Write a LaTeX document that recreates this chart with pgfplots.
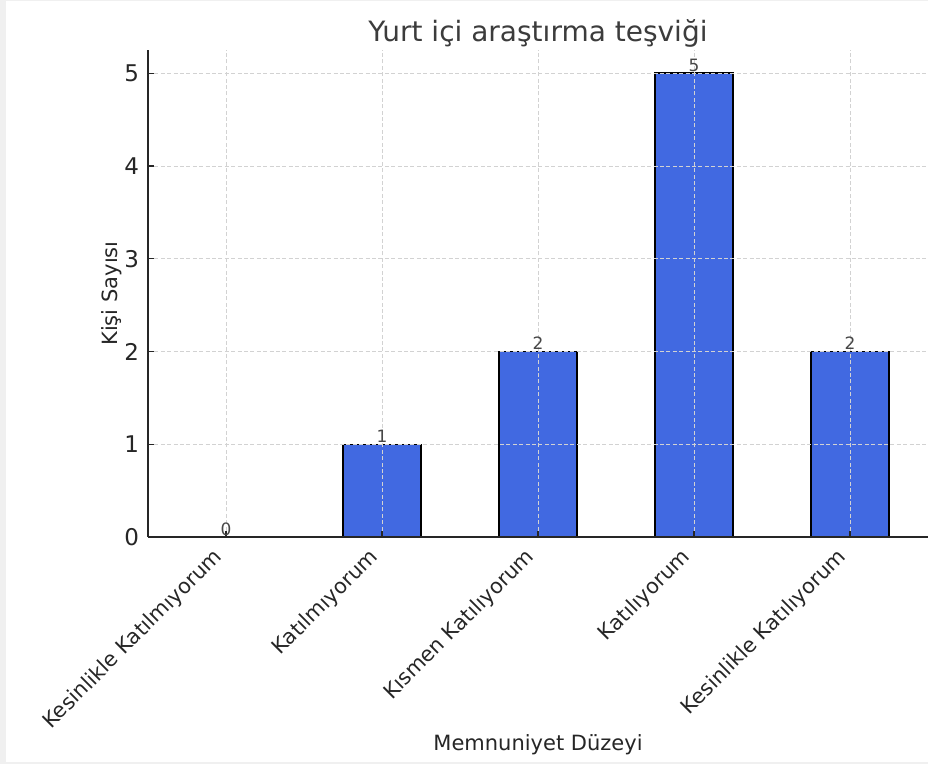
\documentclass[border=0pt]{standalone}
\usepackage{fontspec}
\setmainfont{DejaVu Sans}
\usepackage{pgfplots}
\pgfplotsset{compat=1.18}
\definecolor{barblue}{HTML}{4169E1}
\definecolor{txt}{HTML}{262626}
\definecolor{frame}{HTML}{F0F0F0}
\begin{document}
\begin{tikzpicture}
\useasboundingbox (0,0) rectangle (464pt,382pt);
\fill[frame] (0,0) rectangle (464pt,382pt);
\fill[white] (3pt,0.8pt) rectangle (464pt,381.4pt);
\begin{axis}[
  at={(74pt,113.5pt)}, anchor=south west,
  scale only axis, width=390pt, height=243.5pt,
  xmin=-0.5, xmax=4.5, ymin=0, ymax=5.25,
  clip=false,
  axis x line*=bottom, axis y line*=left,
  axis line style={-, draw=txt, line width=0.7pt},
  xtick={0,1,2,3,4},
  xticklabels={Kesinlikle Katılmıyorum, Katılmıyorum, Kısmen Katılıyorum, Katılıyorum, Kesinlikle Katılıyorum},
  ytick={0,1,2,3,4,5},
  tick align=inside, major tick length=3pt,
  tick style={draw=txt, line width=0.6pt},
  /pgf/number format/assume math mode=true,
  yticklabel style={font=\fontsize{11.5}{13}\selectfont, text=txt, xshift=-1pt},
  xticklabel style={font=\fontsize{10.4}{12}\selectfont, text=txt, rotate=45, anchor=base east, inner sep=0pt, xshift=-8.3pt, yshift=-6.2pt},
  grid=major,
  major grid style={gray!35, dash pattern=on 2pt off 1.2pt, line width=0.4pt},
  axis on top,
  xlabel={Memnuniyet Düzeyi},
  xlabel style={font=\fontsize{10.5}{12}\selectfont, text=txt, at={(axis description cs:0.5,-0.427)}, anchor=center},
  ylabel={Kişi Sayısı},
  ylabel style={font=\fontsize{10.5}{12}\selectfont, text=txt, at={(axis description cs:-0.046,0.5)}, anchor=center, rotate=0},
]
\addplot[ybar, bar width=0.5, fill=barblue, draw=black, line width=0.7pt,
  nodes near coords, every node near coord/.append style={font=\fontsize{8.5}{10}\selectfont, text=txt!85, anchor=south, inner sep=0.5pt}]
  coordinates {(0,0) (1,1) (2,2) (3,5) (4,2)};
\node[font=\fontsize{14}{16}\selectfont, text=txt!90] at (rel axis cs:0.5,1.033) {Yurt içi araştırma teşviği};
\end{axis}
\end{tikzpicture}
\end{document}
